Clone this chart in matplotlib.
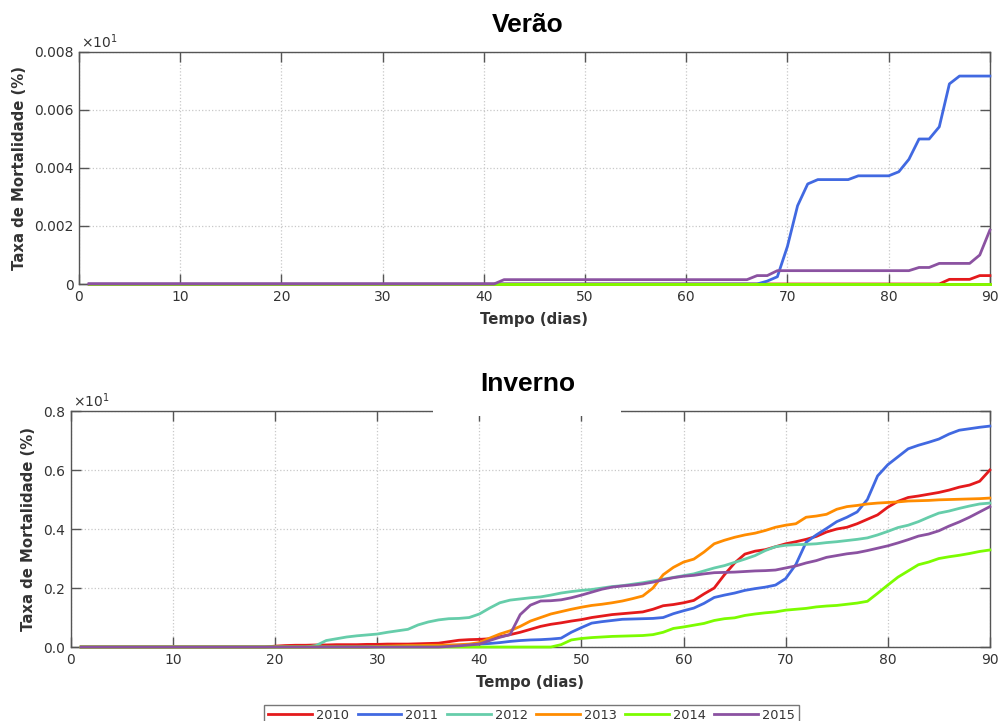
import matplotlib
matplotlib.use("Agg")
import matplotlib.pyplot as plt

# days 1..90
days = list(range(1, 91))
years = ["2010", "2011", "2012", "2013", "2014", "2015"]
colors = ["#e41a1c", "#4169e1", "#66cdaa", "#ff8c00", "#7cfc00", "#8b52a1"]

# Verao (values as shown on the axis, x10^1)
verao_2010 = [0] * 85 + [0.00016, 0.00016, 0.00016, 0.00029, 0.00029]
verao_2011 = [0] * 67 + [0.0001, 0.00025, 0.0013, 0.0027, 0.00345, 0.0036, 0.0036, 0.0036,
                         0.0036, 0.00373, 0.00373, 0.00373, 0.00373, 0.00387, 0.0043, 0.005,
                         0.005, 0.00542, 0.0069, 0.00717, 0.00717, 0.00717, 0.00717]
verao_2012 = [0] * 90
verao_2013 = [0] * 90
verao_2014 = [0] * 90
verao_2015 = [0] * 41 + [0.00015] * 25 + [0.00029, 0.00029] + [0.00046] * 14 + \
             [0.00057, 0.00057, 0.00071, 0.00071, 0.00071, 0.00071, 0.001, 0.00186]

# Inverno
inverno_2010 = [0] * 19 + [0.003, 0.005, 0.006, 0.006, 0.007, 0.007, 0.008, 0.008, 0.008, 0.009,
                           0.009, 0.01, 0.01, 0.01, 0.011, 0.012, 0.013, 0.018, 0.023, 0.025,
                           0.026, 0.028, 0.035, 0.042, 0.05, 0.06, 0.07, 0.077, 0.082, 0.088,
                           0.093, 0.1, 0.105, 0.11, 0.113, 0.116, 0.119, 0.128, 0.14, 0.144,
                           0.15, 0.158, 0.18, 0.2, 0.245, 0.285, 0.315, 0.325, 0.33, 0.34,
                           0.35, 0.357, 0.365, 0.375, 0.39, 0.4, 0.406, 0.418, 0.433, 0.448,
                           0.474, 0.494, 0.507, 0.512, 0.518, 0.524, 0.532, 0.542, 0.549, 0.562,
                           0.6]
inverno_2011 = [0] * 29 + [0.001, 0.002, 0.002, 0.003, 0.003, 0.004, 0.004, 0.005, 0.006, 0.008,
                           0.01, 0.012, 0.015, 0.019, 0.022, 0.024, 0.025, 0.027, 0.03, 0.05,
                           0.066, 0.081, 0.086, 0.09, 0.094, 0.095, 0.096, 0.097, 0.1, 0.113,
                           0.123, 0.132, 0.148, 0.168, 0.176, 0.183, 0.192, 0.198, 0.203, 0.21,
                           0.232, 0.28, 0.355, 0.38, 0.402, 0.425, 0.44, 0.458, 0.5, 0.58,
                           0.618, 0.645, 0.672, 0.684, 0.694, 0.705, 0.722, 0.735, 0.74, 0.745,
                           0.749]
inverno_2012 = [0] * 23 + [0.005, 0.022, 0.028, 0.034, 0.038, 0.041, 0.044, 0.05, 0.055, 0.06,
                           0.075, 0.085, 0.092, 0.096, 0.097, 0.1, 0.112, 0.132, 0.15, 0.159,
                           0.163, 0.167, 0.17, 0.176, 0.183, 0.188, 0.192, 0.195, 0.2, 0.205,
                           0.208, 0.213, 0.218, 0.224, 0.23, 0.236, 0.242, 0.248, 0.258, 0.268,
                           0.276, 0.287, 0.298, 0.31, 0.327, 0.34, 0.345, 0.347, 0.348, 0.35,
                           0.354, 0.357, 0.361, 0.365, 0.37, 0.38, 0.392, 0.405, 0.413, 0.425,
                           0.44, 0.454, 0.461, 0.47, 0.478, 0.485, 0.488]
inverno_2013 = [0] * 29 + [0.002, 0.003, 0.004, 0.005, 0.005, 0.006, 0.006, 0.007, 0.008, 0.01,
                           0.015, 0.03, 0.044, 0.055, 0.07, 0.088, 0.1, 0.112, 0.12, 0.128,
                           0.135, 0.141, 0.145, 0.15, 0.156, 0.164, 0.173, 0.2, 0.245, 0.27,
                           0.288, 0.298, 0.322, 0.35, 0.362, 0.372, 0.38, 0.386, 0.395, 0.406,
                           0.413, 0.418, 0.44, 0.444, 0.45, 0.467, 0.476, 0.48, 0.485, 0.488,
                           0.49, 0.492, 0.495, 0.496, 0.497, 0.499, 0.5, 0.501, 0.502, 0.503,
                           0.505]
inverno_2014 = [0] * 47 + [0.008, 0.024, 0.029, 0.032, 0.034, 0.036, 0.037, 0.038, 0.039, 0.042,
                           0.05, 0.063, 0.068, 0.074, 0.08, 0.09, 0.096, 0.099, 0.107, 0.112,
                           0.116, 0.119, 0.125, 0.128, 0.131, 0.136, 0.139, 0.141, 0.145, 0.149,
                           0.155, 0.182, 0.21, 0.237, 0.258, 0.279, 0.288, 0.3, 0.306, 0.311,
                           0.317, 0.324, 0.329]
inverno_2015 = [0] * 36 + [0.002, 0.004, 0.007, 0.01, 0.022, 0.033, 0.042, 0.11, 0.142, 0.156,
                           0.157, 0.16, 0.167, 0.176, 0.186, 0.196, 0.203, 0.207, 0.21, 0.214,
                           0.22, 0.228, 0.235, 0.24, 0.243, 0.248, 0.252, 0.253, 0.254, 0.256,
                           0.258, 0.259, 0.261, 0.268, 0.275, 0.285, 0.293, 0.304, 0.31, 0.316,
                           0.32, 0.327, 0.335, 0.343, 0.353, 0.364, 0.376, 0.383, 0.394, 0.41,
                           0.424, 0.44, 0.458, 0.476]

verao = [verao_2010, verao_2011, verao_2012, verao_2013, verao_2014, verao_2015]
inverno = [inverno_2010, inverno_2011, inverno_2012, inverno_2013, inverno_2014, inverno_2015]

xticks = [0, 10, 20, 30, 40, 50, 60, 70, 80, 90]
verao_yticks = [0, 0.002, 0.004, 0.006, 0.008]
verao_ylabels = ["0", "0.002", "0.004", "0.006", "0.008"]
inverno_yticks = [0, 0.2, 0.4, 0.6, 0.8]
inverno_ylabels = ["0.0", "0.2", "0.4", "0.6", "0.8"]

plt.rcParams['mathtext.fontset'] = 'dejavusans'
fig = plt.figure(figsize=(10.01, 7.21), dpi=100)
ax1 = fig.add_axes([0.0789, 0.6061, 0.910, 0.3218])
ax2 = fig.add_axes([0.0709, 0.1026, 0.918, 0.3273])

spine_col = "#555555"
text_col = "#333333"


def style_axes(ax, yticks, ylabels, ymax):
    ax.set_xlim(0, 90)
    ax.set_ylim(0, ymax)
    ax.set_xticks(xticks)
    ax.set_yticks(yticks)
    ax.set_yticklabels(ylabels)
    ax.grid(True, linestyle=':', color='#c8c8c8', linewidth=0.9)
    ax.tick_params(direction='in', length=7, width=1, top=True, right=True,
                   colors=spine_col, labelcolor=text_col, labelsize=10, pad=4)
    for s in ax.spines.values():
        s.set_color(spine_col)
        s.set_linewidth(1)
    ax.set_xlabel("Tempo (dias)", fontsize=10.7, fontweight='bold', color=text_col, labelpad=6)
    ax.set_ylabel("Taxa de Mortalidade (%)", fontsize=10.7, fontweight='bold', color=text_col, labelpad=5)
    ax.text(0.002, 1.003, r'$\times10^{1}$', transform=ax.transAxes, ha='left', va='bottom',
            fontsize=10, color=text_col)


for i in range(len(years)):
    ax1.plot(days, verao[i], color=colors[i], linewidth=2, label=years[i], clip_on=False, zorder=3)
    ax2.plot(days, inverno[i], color=colors[i], linewidth=2, label=years[i], clip_on=False, zorder=3)

style_axes(ax1, verao_yticks, verao_ylabels, 0.008)
style_axes(ax2, inverno_yticks, inverno_ylabels, 0.8)

fig.text(0.527, 0.965, "Verão", ha='center', va='center', fontsize=19, fontweight='bold',
         family='Liberation Sans')
fig.text(0.527, 0.468, "Inverno", ha='center', va='center', fontsize=19, fontweight='bold',
         family='Liberation Sans', zorder=11)
# white box over the top spine under the title
fig.patches.append(plt.Rectangle((433 / 1001, 1 - 416 / 721), (621 - 433) / 1001, 10 / 721,
                                 transform=fig.transFigure, facecolor='white', edgecolor='none',
                                 zorder=10))

leg = fig.legend(*ax2.get_legend_handles_labels(), loc='upper center', bbox_to_anchor=(0.531, 0.022),
                 ncol=6, fontsize=9.3, frameon=True, fancybox=False, handlelength=3.4,
                 columnspacing=0.65, handletextpad=0.3, borderpad=0.3, borderaxespad=0)
leg.get_frame().set_edgecolor(spine_col)
leg.get_frame().set_linewidth(1)
for t in leg.get_texts():
    t.set_color(text_col)

fig.savefig("out.png", dpi=100)
